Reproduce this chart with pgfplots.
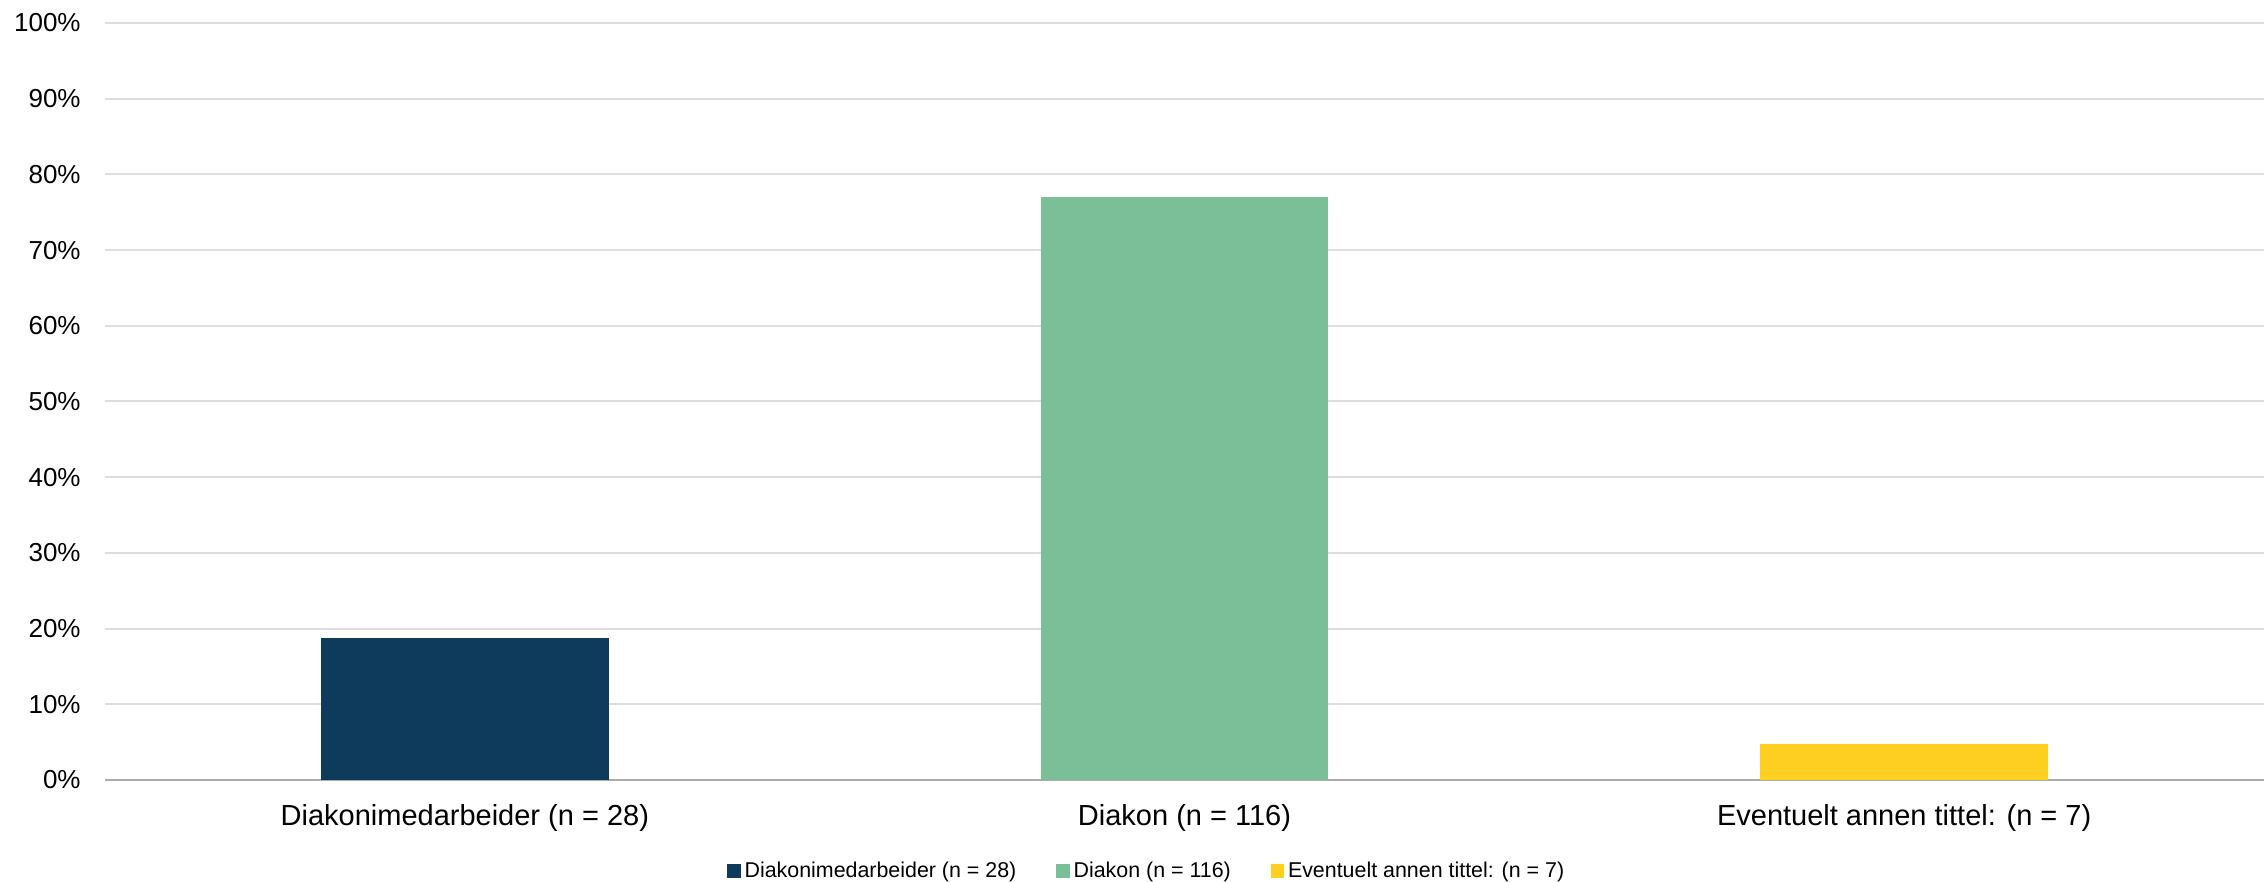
\documentclass[border=0pt]{standalone}
\usepackage{pgfplots}
\pgfplotsset{compat=1.18}
\usepackage{fontspec}
\setmainfont{Liberation Sans}
\definecolor{cblue}{HTML}{0E3A5C}
\definecolor{cgreen}{HTML}{7BBF99}
\definecolor{cyellow}{HTML}{FDCF21}
\definecolor{cgrid}{HTML}{DDDDDD}
\definecolor{caxis}{HTML}{ABABAB}
\begin{document}
\begin{tikzpicture}
\begin{axis}[
  at={(0pt,0pt)}, anchor=south west,
  scale only axis,
  width=1079.5pt, height=378.5pt,
  xmin=-0.5, xmax=2.5,
  ymin=0, ymax=100,
  enlargelimits=false,
  ybar, bar width=143.9pt, bar shift=0pt,
  axis line style={draw=none},
  major tick length=0pt,
  ymajorgrids,
  grid style={draw=cgrid, line width=1pt},
  ytick={10,20,...,100},
  yticklabels={10\%,20\%,30\%,40\%,50\%,60\%,70\%,80\%,90\%,100\%},
  extra y ticks={0},
  extra y tick labels={0\%},
  extra y tick style={grid style={draw=caxis, line width=1.2pt}},
  yticklabel style={font=\fontsize{13}{15}\selectfont, anchor=east, inner sep=0pt, xshift=-12pt},
  xtick={0,1,2},
  xticklabels={Diakonimedarbeider (n = 28),Diakon (n = 116),Eventuelt annen tittel: (n = 7)},
  xticklabel style={font=\fontsize{14.5}{16}\selectfont, anchor=base, inner sep=0pt, yshift=-23pt},
  clip=false,
  legend columns=3,
  legend style={at={(0.483,-0.1202)}, anchor=center, draw=none, fill=none,
    font=\fontsize{10.7}{12}\selectfont, inner sep=0pt,
    /tikz/every even column/.append style={column sep=18pt}},
  legend image code/.code={\fill[#1] (0pt,-3.3pt) rectangle (6.6pt,3.3pt);},
]
\addplot[fill=cblue, draw=none] coordinates {(0,18.8)};
\addplot[fill=cgreen, draw=none] coordinates {(1,77.0)};
\addplot[fill=cyellow, draw=none] coordinates {(2,4.8)};
\legend{Diakonimedarbeider (n = 28),Diakon (n = 116),Eventuelt annen tittel: (n = 7)}
\end{axis}
\pgfresetboundingbox
\path[use as bounding box] (-52.5pt,-51pt) rectangle (1079.5pt,390pt);
\end{tikzpicture}
\end{document}
